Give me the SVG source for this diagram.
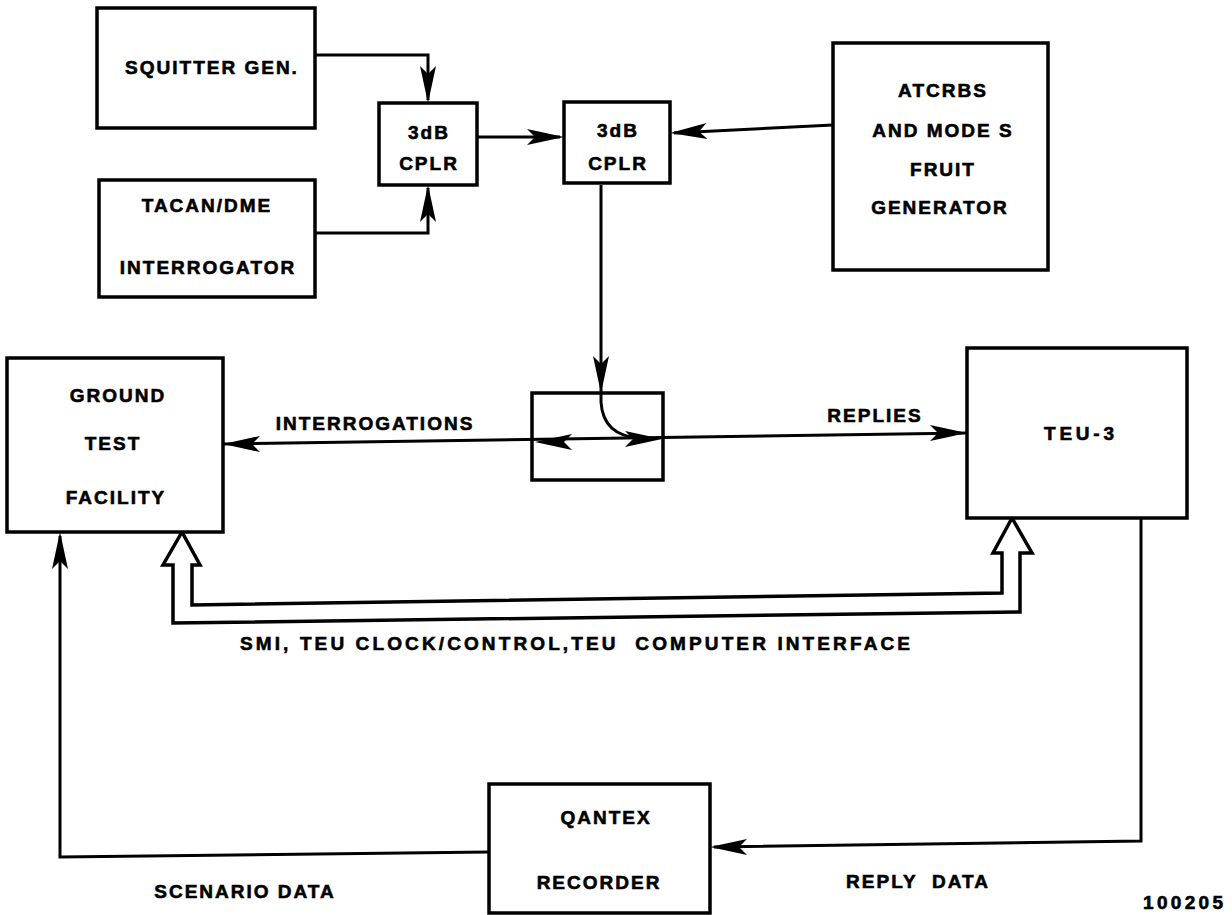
<svg xmlns="http://www.w3.org/2000/svg" xmlns:xlink="http://www.w3.org/1999/xlink" width="1232" height="915" viewBox="0 0 1232 915">
<style>
.box{fill:#fff;stroke:#000;stroke-width:3.5}
.ln{fill:none;stroke:#000;stroke-width:3}
.bus{fill:#fff;stroke:#000;stroke-width:3.5;stroke-linejoin:miter}
.t{font-family:"Liberation Sans",Arial,Helvetica,sans-serif;font-weight:bold;font-size:19px;letter-spacing:2px;text-anchor:middle;dominant-baseline:central;fill:#000;stroke:#000;stroke-width:0.6;white-space:pre}
.ts{text-anchor:start}
</style>
<defs>
<path id="ah" d="M0,0 L-37,-8 L-29,0 L-37,8 Z" fill="#000"/>
</defs>
<rect width="1232" height="915" fill="#fff"/>
<g id="connectors">
<path class="ln" d="M315,55 L428,55 L428,100"/>
<path class="ln" d="M315,233 L428,233 L428,188"/>
<path class="ln" d="M477,137 L560,137"/>
<path class="ln" d="M833,125 L674,133"/>
<path class="ln" d="M601,185 L601,402 Q603,436 640,438"/>
<path class="ln" d="M223,444 L967,433"/>
<path class="ln" d="M489,852 L60,857 L60,536"/>
<path class="ln" d="M1141,518 L1141,841 L714,847"/>
<path id="bus" class="bus" d="M182,532 L200,565 L192,565 L192,605 L1002,593 L1002,553 L993,553 L1012,518 L1032,553 L1020,553 L1020,612 L173,623 L173,565 L163,565 Z"/>
<use xlink:href="#ah" href="#ah" transform="translate(428,103) rotate(90)"/>
<use xlink:href="#ah" href="#ah" transform="translate(428,185) rotate(-90)"/>
<use xlink:href="#ah" href="#ah" transform="translate(564,137)"/>
<use xlink:href="#ah" href="#ah" transform="translate(670,133) rotate(177)"/>
<use xlink:href="#ah" href="#ah" transform="translate(601,393) rotate(90)"/>
<use xlink:href="#ah" href="#ah" transform="translate(535,442) rotate(180)"/>
<use xlink:href="#ah" href="#ah" transform="translate(662,439)"/>
<use xlink:href="#ah" href="#ah" transform="translate(223,444) rotate(180)"/>
<use xlink:href="#ah" href="#ah" transform="translate(967,433)"/>
<use xlink:href="#ah" href="#ah" transform="translate(60,532) rotate(-90)"/>
<use xlink:href="#ah" href="#ah" transform="translate(710,847) rotate(180)"/>
<text class="t" x="375" y="423">INTERROGATIONS</text>
<text class="t" x="875" y="415">REPLIES</text>
<text class="t ts" x="240" y="643" textLength="672" lengthAdjust="spacing">SMI, TEU CLOCK/CONTROL,TEU  COMPUTER INTERFACE</text>
<text class="t" x="245" y="891">SCENARIO DATA</text>
<text class="t" x="918" y="881">REPLY  DATA</text>
</g>
<g id="squitter">
<rect class="box" x="97" y="8" width="218" height="120"/>
<text class="t" x="212" y="67">SQUITTER GEN.</text>
</g>
<g id="tacan">
<rect class="box" x="99" y="180" width="216" height="117"/>
<text class="t" x="207" y="205">TACAN/DME</text>
<text class="t" x="208" y="267">INTERROGATOR</text>
</g>
<g id="cplr1">
<rect class="box" x="379" y="103" width="98" height="82"/>
<text class="t" x="429" y="132">3dB</text>
<text class="t" x="429" y="163">CPLR</text>
</g>
<g id="cplr2">
<rect class="box" x="564" y="102" width="106" height="81"/>
<text class="t" x="618" y="130">3dB</text>
<text class="t" x="618" y="163">CPLR</text>
</g>
<g id="atcrbs">
<rect class="box" x="833" y="43" width="215" height="227"/>
<text class="t" x="943" y="90">ATCRBS</text>
<text class="t" x="943" y="130">AND MODE S</text>
<text class="t" x="943" y="169">FRUIT</text>
<text class="t" x="940" y="207">GENERATOR</text>
</g>
<g id="gtf">
<rect class="box" x="7" y="358" width="216" height="174"/>
<text class="t" x="118" y="395">GROUND</text>
<text class="t" x="113" y="443">TEST</text>
<text class="t" x="116" y="497">FACILITY</text>
</g>
<g id="circulator">
<rect class="box" x="532" y="393" width="131" height="87" style="fill:none"/>
</g>
<g id="teu3">
<rect class="box" x="967" y="348" width="220" height="170"/>
<text class="t" x="1080" y="433" textLength="72" lengthAdjust="spacing">TEU-3</text>
</g>
<g id="qantex">
<rect class="box" x="489" y="784" width="221" height="129"/>
<text class="t" x="606" y="817">QANTEX</text>
<text class="t" x="599" y="882">RECORDER</text>
</g>
<text class="t ts" x="1143" y="902" textLength="82" lengthAdjust="spacing">100205</text>
</svg>
